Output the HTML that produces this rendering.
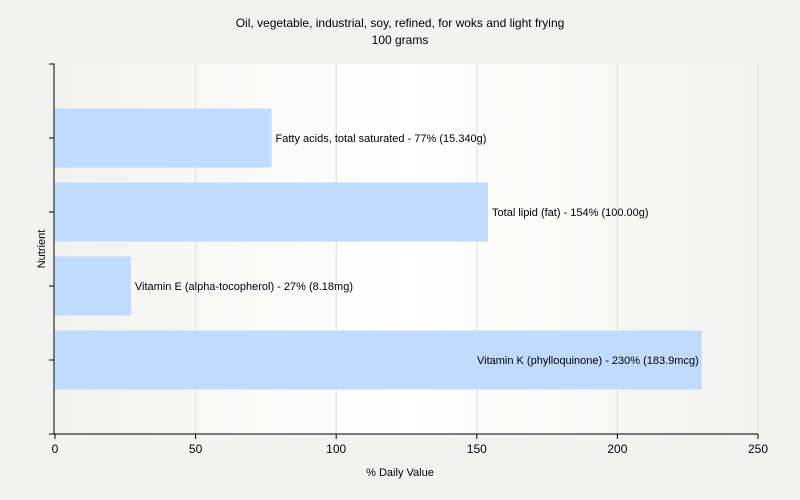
<!DOCTYPE html>
<html><head><meta charset="utf-8"><style>
body{margin:0;background:#f2f2f1;font-family:"Liberation Sans",sans-serif}
svg{display:block}
</style></head><body>
<svg id="c" width="800" height="500" xmlns="http://www.w3.org/2000/svg">
<defs><linearGradient id="g" x1="0" x2="1" y1="0" y2="0">
<stop offset="0" stop-color="#f2f2f0"/><stop offset="0.5" stop-color="#ffffff"/><stop offset="1" stop-color="#f2f2f0"/></linearGradient></defs>
<rect width="800" height="500" fill="#f2f2f1"/>
<text x="400" y="27" text-anchor="middle" font-size="12">Oil, vegetable, industrial, soy, refined, for woks and light frying</text>
<text x="400" y="44" text-anchor="middle" font-size="12">100 grams</text>
<rect x="55" y="64" width="703" height="370" fill="url(#g)"/>
<g id="grid"></g><g id="bars"></g><g id="axes"></g>
<text x="400" y="476" text-anchor="middle" font-size="11">% Daily Value</text>
<text transform="translate(45,249) rotate(-90)" text-anchor="middle" font-size="11">Nutrient</text>
</svg>
<script>
const categories=["Fatty acids, total saturated","Total lipid (fat)","Vitamin E (alpha-tocopherol)","Vitamin K (phylloquinone)"];
const values=[77,154,27,230];
const labels=["Fatty acids, total saturated - 77% (15.340g)","Total lipid (fat) - 154% (100.00g)","Vitamin E (alpha-tocopherol) - 27% (8.18mg)","Vitamin K (phylloquinone) - 230% (183.9mcg)"];
const ticks=[0,50,100,150,200,250];
const NS="http://www.w3.org/2000/svg";
const X0=55,X1=758,Y0=64,Y1=434,XMAX=250;
const x=v=>X0+(X1-X0)*v/XMAX;
const band=74,barH=59;
const yc=i=>(Y0+Y1)/2+(i-(categories.length-1)/2)*band;
function mk(t,a,p){const e=document.createElementNS(NS,t);for(const k in a)e.setAttribute(k,a[k]);p.appendChild(e);return e;}
const grid=document.getElementById('grid'),bars=document.getElementById('bars'),axes=document.getElementById('axes');
ticks.forEach(t=>{
 if(t>0){const l=mk('line',{x1:x(t),x2:x(t),y1:Y0,y2:Y1,stroke:'#dddddd'},grid);
 
 }
 const tk=mk('line',{x1:x(t),x2:x(t),y1:Y1,y2:Y1+5,stroke:'#000'},axes);
 
 
 const tx=mk('text',{x:x(t),y:Y1+19,'text-anchor':'middle','font-size':12},axes);tx.textContent=t;
 
 
});
categories.forEach((c,i)=>{
 const cy=yc(i),top=cy-barH/2;
 const r=mk('rect',{x:X0,y:top,width:x(values[i])-X0,height:barH,fill:'#bfdbff'},bars);
 
 
 const inside=x(values[i])+200>X1;
 const t=mk('text',{x:inside?x(values[i])-3:x(values[i])+4,y:cy+4,'font-size':11,'text-anchor':inside?'end':'start'},bars);
 t.textContent=labels[i];
 
 
 const tk=mk('line',{x1:X0-6,x2:X0-1,y1:cy,y2:cy,stroke:'#000'},axes);
 
 
});
const ya=mk('path',{d:`M${X0-6} ${Y0}H${X0-1}V${Y1}`,stroke:'#000',fill:'none'},axes);


const xa=mk('line',{x1:X0-6,x2:X1,y1:Y1,y2:Y1,stroke:'#000'},axes);


</script>
</body></html>
